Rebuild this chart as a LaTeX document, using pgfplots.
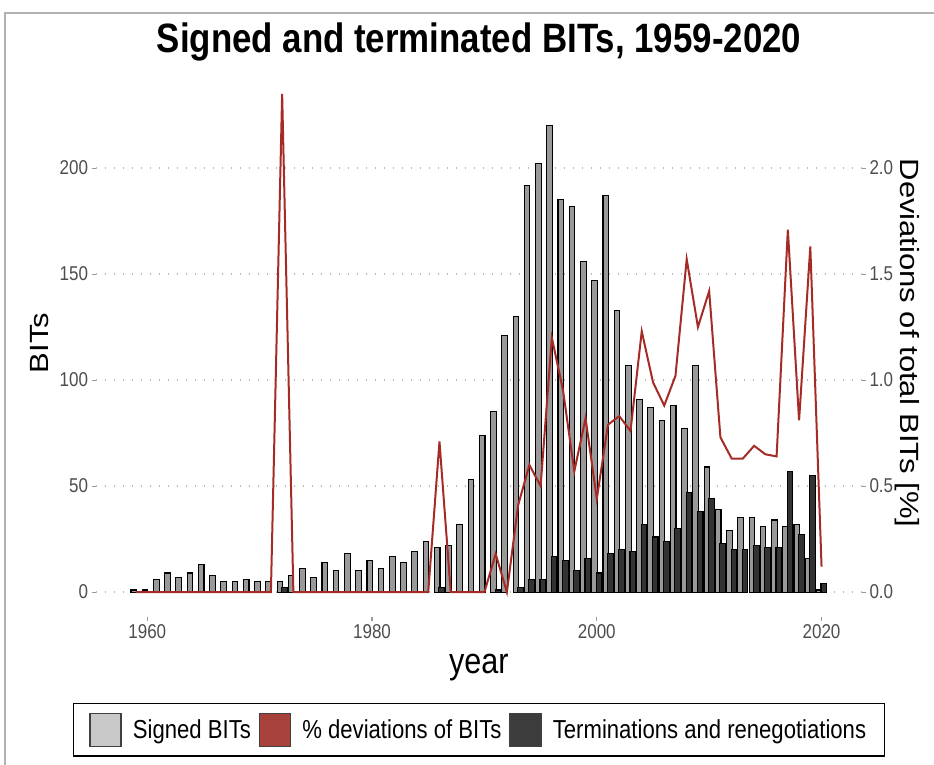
\documentclass[border=0pt]{standalone}
\usepackage{pgfplots}
\pgfplotsset{compat=1.18}
\usepackage{pgfplotstable}
\usepackage{graphicx}
\usepackage{fontspec}
\setmainfont{Liberation Sans}[FakeStretch=0.85]
\newfontfamily\plainsans{Liberation Sans}
\definecolor{signedfill}{HTML}{999999}
\definecolor{signedkey}{HTML}{C8C8C8}
\definecolor{devred}{HTML}{A52B26}
\definecolor{devkey}{HTML}{A6413B}
\definecolor{termfill}{HTML}{333333}
\definecolor{termkey}{HTML}{3C3C3C}
\definecolor{ticktext}{HTML}{4D4D4D}

\pgfplotstableread{
year signed
1959 1
1960 1
1961 6
1962 9
1963 7
1964 9
1965 13
1966 8
1967 5
1968 5
1969 6
1970 5
1971 5
1972 5
1973 8
1974 11
1975 7
1976 14
1977 10
1978 18
1979 10
1980 15
1981 11
1982 17
1983 14
1984 19
1985 24
1986 21
1987 22
1988 32
1989 53
1990 74
1991 85
1992 121
1993 130
1994 192
1995 202
1996 220
1997 185
1998 182
1999 156
2000 147
2001 187
2002 133
2003 107
2004 91
2005 87
2006 81
2007 88
2008 77
2009 107
2010 59
2011 39
2012 29
2013 35
2014 35
2015 31
2016 34
2017 31
2018 32
2019 16
2020 1
}\signedtab

\pgfplotstableread{
year term
1972 2
1986 2
1991 1
1993 2
1994 6
1995 6
1996 17
1997 15
1998 10
1999 16
2000 9
2001 18
2002 20
2003 19
2004 32
2005 26
2006 24
2007 30
2008 47
2009 38
2010 44
2011 23
2012 20
2013 20
2014 22
2015 21
2016 21
2017 57
2018 27
2019 55
2020 4
}\termtab

\pgfplotstableread{
year dev
1959 0
1960 0
1961 0
1962 0
1963 0
1964 0
1965 0
1966 0
1967 0
1968 0
1969 0
1970 0
1971 0
1972 2.35
1973 0
1974 0
1975 0
1976 0
1977 0
1978 0
1979 0
1980 0
1981 0
1982 0
1983 0
1984 0
1985 0
1986 0.71
1987 0
1988 0
1989 0
1990 0
1991 0.18
1992 0
1993 0.41
1994 0.60
1995 0.50
1996 1.20
1997 0.95
1998 0.57
1999 0.82
2000 0.44
2001 0.79
2002 0.83
2003 0.76
2004 1.23
2005 0.99
2006 0.88
2007 1.02
2008 1.57
2009 1.25
2010 1.42
2011 0.73
2012 0.63
2013 0.63
2014 0.69
2015 0.65
2016 0.64
2017 1.71
2018 0.81
2019 1.63
2020 0.12
}\devtab

\pgfplotsset{
  common/.style={
    at={(95.6pt,148pt)}, anchor=south west,
    width=766.4pt, height=548pt, scale only axis,
    xmin=1955.4, xmax=2023.6,
    axis line style={draw=none},
    tick align=outside,
    major tick length=4pt,
    tick style={gray!80, line width=1.1pt},
    tick label style={font=\fontsize{20}{24}\selectfont, text=ticktext},
    /pgf/number format/assume math mode=true,
    /pgf/number format/1000 sep={},
  }
}

\begin{document}
\begin{tikzpicture}[x=1pt,y=1pt]
\useasboundingbox (0,0) rectangle (934,765);
\draw[gray!60, line width=1.2pt] (5,0) -- (5,752) -- (934,752);
\node[font=\fontsize{41}{48}\selectfont\bfseries, anchor=base] at (479,712) {Signed and terminated BITs, 1959-2020};

\begin{axis}[
  common,
  ymin=-11.75, ymax=246.75,
  xtick={1960,1980,2000,2020},
  ytick={0,50,100,150,200},
  xtick pos=bottom, ytick pos=left,
  ymajorgrids,
  grid style={gray!55, line width=1.2pt, dash pattern=on 1.5pt off 7.5pt},
  xlabel={year},
  xlabel style={at={(axis description cs:0.5,-0.104)}, anchor=base, font=\fontsize{36}{40}\selectfont},
  ylabel={\plainsans\scalebox{1}[0.85]{BITs}},
  ylabel style={at={(axis description cs:-0.0621,0.5)}, anchor=base, font=\fontsize{31}{36}\selectfont},
  legend style={at={(axis description cs:0.5,-0.206)}, anchor=center, draw=black, line width=1.3pt,
    fill=white, font=\fontsize{26}{29}\selectfont, legend columns=-1, inner xsep=16pt, inner ysep=9pt,
    /tikz/every even column/.append style={column sep=6pt},
    /tikz/every odd column/.append style={column sep=9pt}},
  legend cell align=left,
]
\addlegendimage{legend image code/.code={\draw[fill=signedkey, draw=black!75, line width=1.5pt] (0pt,-17pt) rectangle (31pt,16pt);}}
\addlegendentry{Signed BITs}
\addlegendimage{legend image code/.code={\draw[fill=devkey, draw=black!75, line width=1.5pt] (0pt,-17pt) rectangle (31pt,16pt);}}
\addlegendentry{\% deviations of BITs}
\addlegendimage{legend image code/.code={\draw[fill=termkey, draw=black!75, line width=1.5pt] (0pt,-17pt) rectangle (31pt,16pt);}}
\addlegendentry{Terminations and renegotiations}

\addplot[ybar, bar width=0.5, bar shift=-0.2, fill=signedfill, draw=black, line width=1.1pt, forget plot]
  table[x=year, y=signed] {\signedtab};
\addplot[ybar, bar width=0.5, bar shift=0.2, fill=termfill, draw=black, line width=1.1pt, forget plot]
  table[x=year, y=term] {\termtab};
\end{axis}

\begin{axis}[
  common,
  ymin=-0.1175, ymax=2.4675,
  xtick=\empty,
  ytick={0,0.5,1,1.5,2},
  ytick pos=right,
  yticklabel style={/pgf/number format/.cd, fixed, fixed zerofill, precision=1},
  ylabel={\plainsans\scalebox{1}[0.85]{Deviations of total BITs [\%]}},
  ylabel style={at={(axis description cs:1.0496,0.5)}, anchor=base, rotate=180, font=\fontsize{31}{36}\selectfont},
]
\addplot[devred, line width=2pt, no marks, sharp plot] table[x=year, y=dev] {\devtab};
\end{axis}
\end{tikzpicture}
\end{document}
